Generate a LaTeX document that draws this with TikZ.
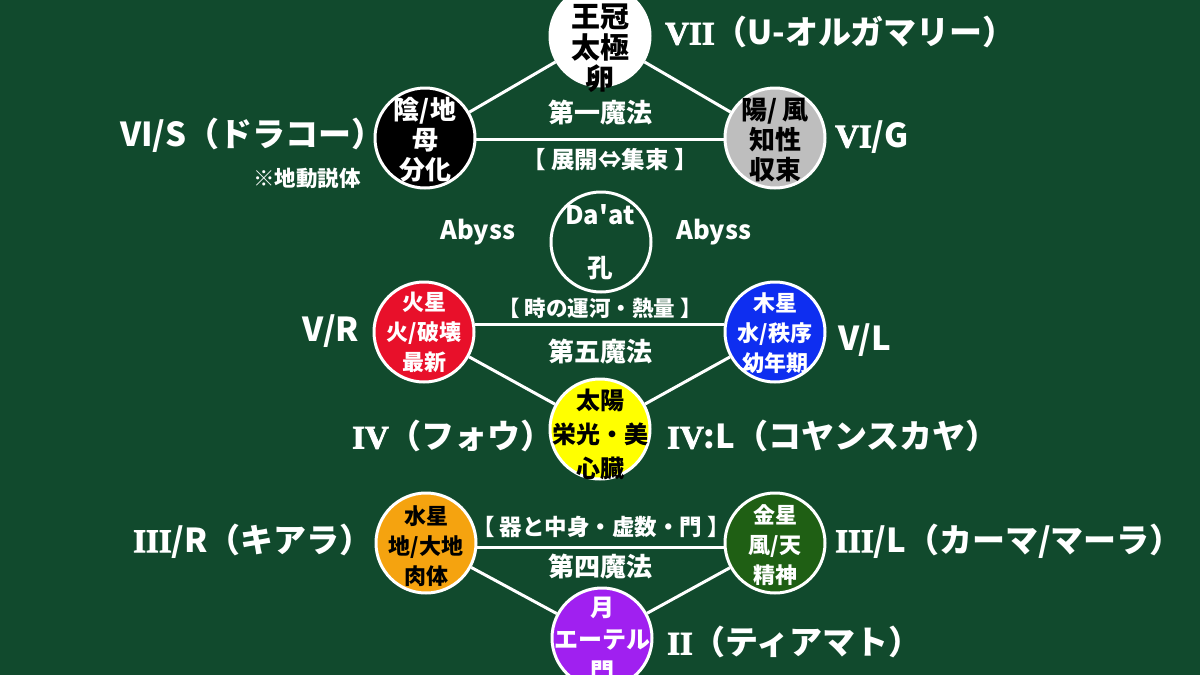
\documentclass[tikz,border=0pt]{standalone}
\usepackage{fontspec}
\setmainfont{Noto Sans CJK JP}
\newfontfamily\latn{Noto Sans CJK JP}[Ligatures=TeXOff]
\newfontfamily\rom{Liberation Serif}[BoldFont={Liberation Serif Bold},BoldFeatures={FakeBold=2.5}]
\definecolor{bg}{HTML}{114A2D}
\definecolor{cred}{HTML}{E8102A}
\definecolor{cblue}{HTML}{0E2EF0}
\definecolor{cyel}{HTML}{FFFF00}
\definecolor{corange}{HTML}{F5A30F}
\definecolor{cgreen}{HTML}{1F5F14}
\definecolor{cpurple}{HTML}{A020F0}
\definecolor{cgray}{HTML}{BEBEBE}
\pgfdeclarelayer{bgl}
\pgfdeclarelayer{lines}
\pgfsetlayers{bgl,lines,main}
\begin{document}
\begin{tikzpicture}[x=1pt,y=-1pt,
  conn/.style={white,line width=3pt},
  orb/.style={circle,draw=white,line width=3pt,minimum size=100pt,inner sep=0pt},
  otext/.style={inner sep=0pt,align=center},
  fa/.style={font=\bfseries\fontsize{26}{30}\selectfont},
  fb/.style={font=\bfseries\fontsize{22}{30}\selectfont},
  big/.style={text=white,inner sep=0pt,font=\bfseries\fontsize{33}{36}\selectfont},
  mid/.style={text=white,inner sep=0pt,font=\bfseries\fontsize{26}{30}\selectfont},
  small/.style={text=white,inner sep=0pt,font=\bfseries\fontsize{21.5}{24}\selectfont},
  note/.style={text=white,inner sep=0pt,font=\bfseries\fontsize{21.5}{24}\selectfont},
  lat/.style={text=white,inner sep=0pt,font=\latn\bfseries\fontsize{25.5}{28}\selectfont}]
\begin{pgfonlayer}{bgl}
\fill[bg] (0,0) rectangle (1200,675);
\end{pgfonlayer}
\useasboundingbox (0,0) rectangle (1200,675);

% circles
\node[orb,fill=white] (crown) at (600,36) {};
\node[otext,text=black,font=\bfseries\fontsize{29}{31}\selectfont] (crownt) at (600,48) {王冠\\太極\\卵};
\node[orb,fill=black] (yin) at (425,138) {};
\node[otext,text=white,fa] (yint) at (425,140) {陰/地\\母\\分化};
\node[orb,fill=cgray] (yang) at (775,138) {};
\node[otext,text=black,fa] (yangt) at (775,140) {陽/ 風\\知性\\収束};
\node[orb] (daat) at (601,242) {};
\node[lat] (daatt) at (600,215) {Da'at};
\node[lat] (kou) at (600,268) {孔};
\node[orb,fill=cred] (mars) at (424,332) {};
\node[otext,text=white,fb] (marst) at (424,332) {火星\\火/破壊\\最新};
\node[orb,fill=cblue] (jup) at (775,332) {};
\node[otext,text=white,fb] (jupt) at (775,333) {木星\\水/秩序\\幼年期};
\node[orb,fill=cyel] (sun) at (600,429) {};
\node[otext,text=black,font=\bfseries\fontsize{24}{34}\selectfont] (sunt) at (600,434) {太陽\\栄光・美\\心臓};
\node[orb,fill=corange] (merc) at (426,543) {};
\node[otext,text=black,fb] (merct) at (426,546) {水星\\地/大地\\肉体};
\node[orb,fill=cgreen] (ven) at (775,543) {};
\node[otext,text=white,fb] (vent) at (775,545) {金星\\風/天\\精神};
\node[orb,fill=cpurple] (moon) at (602,638) {};
\node[otext,text=white,font=\bfseries\fontsize{24}{32}\selectfont] (moont) at (602,640) {月\\エーテル\\門};

% connectors
\begin{pgfonlayer}{lines}
\draw[conn] (yin) -- (crown);
\draw[conn] (crown) -- (yang);
\draw[conn] (yin.-2) -- (yang.182);
\draw[conn] (mars.8) -- (jup.172);
\draw[conn] (mars) -- (sun);
\draw[conn] (sun) -- (jup);
\draw[conn] (merc.-5) -- (ven.185);
\draw[conn] (merc) -- (moon);
\draw[conn] (moon) -- (ven);
\end{pgfonlayer}

% labels
\node[big,anchor=west] (l7) at (665,32) {{\rom VII}（U-オルガマリー）};
\node[big,anchor=west] (l6s) at (120,135) {VI/S（ドラコー）};
\node[note,anchor=west] (l6n) at (253,178) {※地動説体};
\node[big,anchor=west] (l6g) at (835,137) {{\rom VI}/G};
\node[mid] (m1) at (600,113) {第一魔法};
\node[small,font=\bfseries\fontsize{23.5}{26}\selectfont] (s1) at (610,160) {【 展開⇔集束 】};
\node[lat] (ab1) at (478,232) {Abyss};
\node[lat] (ab2) at (714,232) {Abyss};
\node[small] (s5) at (600,308) {【 時の運河・熱量 】};
\node[mid] (m5) at (600,352) {第五魔法};
\node[big] (l5r) at (331,331) {V/R};
\node[big] (l5l) at (865,340) {V/L};
\node[big,anchor=west] (l4) at (352,436) {{\rom IV}（フォウ）};
\node[big,anchor=west] (l4l) at (667,436) {{\rom IV}:L（コヤンスカヤ）};
\node[small,font=\bfseries\fontsize{22.5}{26}\selectfont] (s4) at (601,527) {【 器と中身・虚数・門 】};
\node[mid] (m4) at (600,567) {第四魔法};
\node[big,anchor=west] (l3r) at (133,541) {{\rom III}/R（キアラ）};
\node[big,anchor=west] (l3l) at (835,541) {{\rom III}/L（カーマ/マーラ）};
\node[big,anchor=west] (l2) at (667,642) {{\rom II}（ティアマト）};
\end{tikzpicture}
\end{document}
